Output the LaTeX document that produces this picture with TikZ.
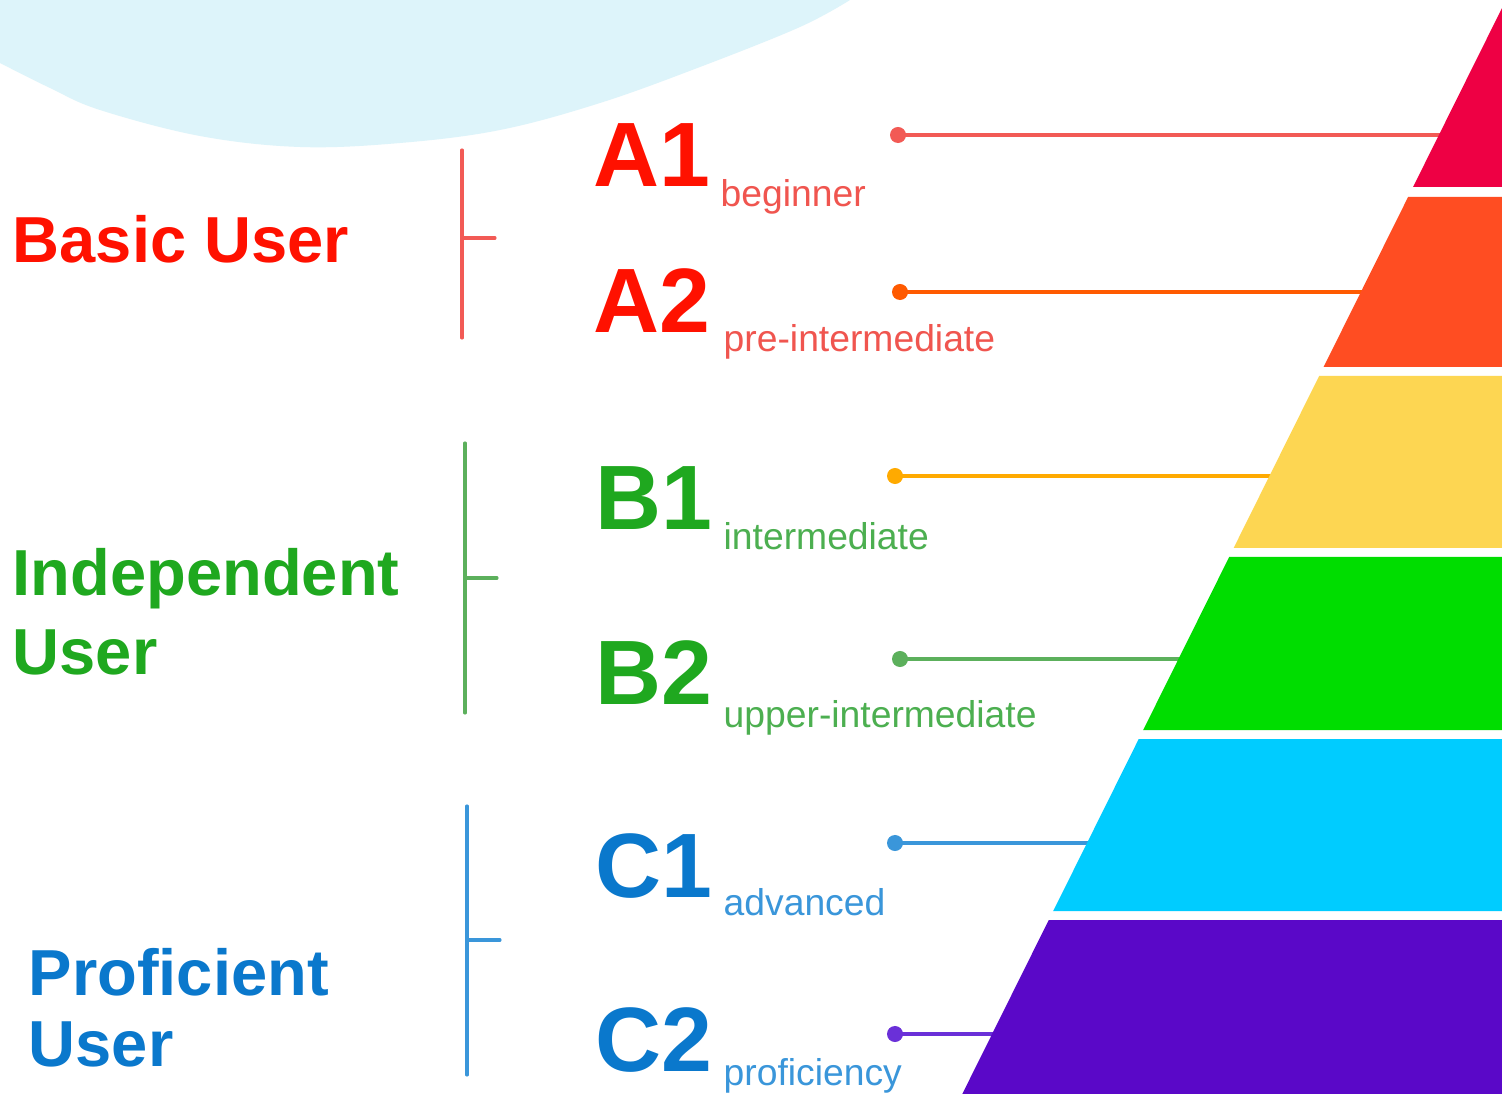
\documentclass[tikz,border=0pt]{standalone}
\usepackage{fontspec}
\setmainfont{Liberation Sans}
\usetikzlibrary{positioning}

\definecolor{blobblue}{HTML}{DDF4FA}
\definecolor{basicred}{HTML}{FF1100}
\definecolor{basiclight}{HTML}{F0554F}
\definecolor{indepgreen}{HTML}{1FA81F}
\definecolor{indeplight}{HTML}{4CAF50}
\definecolor{profblue}{HTML}{0A78CC}
\definecolor{proflight}{HTML}{3A96DA}
\definecolor{lineAone}{HTML}{F25A55}
\definecolor{lineAtwo}{HTML}{FF5A00}
\definecolor{lineBone}{HTML}{FFAA00}
\definecolor{lineBtwo}{HTML}{5CB05C}
\definecolor{lineCone}{HTML}{3A96DA}
\definecolor{lineCtwo}{HTML}{6A30D8}
\definecolor{pyrred}{HTML}{EE0044}
\definecolor{pyrorange}{HTML}{FF4D22}
\definecolor{pyryellow}{HTML}{FDD652}
\definecolor{pyrgreen}{HTML}{00DD00}
\definecolor{pyrcyan}{HTML}{00CCFF}
\definecolor{pyrpurple}{HTML}{5A08C8}

\begin{document}
\begin{tikzpicture}[x=0.01cm, y=-0.01cm]
    \tikzstyle{group} = [anchor=base west, inner sep=0pt, font=\fontsize{18.5}{22}\selectfont\bfseries]
    \tikzstyle{code} = [anchor=base west, inner sep=0pt, font=\fontsize{26}{26}\selectfont\bfseries]
    \tikzstyle{level} = [anchor=base west, inner sep=0pt, font=\fontsize{10.6}{12}\selectfont]
    \tikzstyle{bracket} = [draw, line width=0.9pt, line cap=round]
    \tikzstyle{dot} = [circle, inner sep=0pt, minimum size=0.16cm]
    \tikzstyle{line} = [draw, line width=1.05pt]

    \useasboundingbox (0,0) rectangle (1502,1094);
    \fill[white] (0,0) rectangle (1502,1094);

    % Background blob
    \fill[blobblue] (0,0) -- plot[smooth, tension=0.6] coordinates {(0,63) (50,88) (100,110) (200,136) (300,147) (400,143) (500,130) (600,103) (700,67) (800,27) (850,0)} -- cycle;

    % Group labels
    \node [group, basicred] (basic) at (12,263) {Basic User};
    \node [group, indepgreen] (indep) at (12,595) {Independent};
    \node [group, indepgreen] (indepuser) at (12,675) {User};
    \node [group, profblue] (prof) at (28,995) {Proficient};
    \node [group, profblue] (profuser) at (28,1066) {User};

    % Brackets
    \coordinate (basictop) at (462,150);
    \coordinate (basicbot) at (462,338);
    \coordinate (basicmid) at (462,238);
    \coordinate (basictip) at (495,238);
    \coordinate (indeptop) at (465,443);
    \coordinate (indepbot) at (465,713);
    \coordinate (indepmid) at (465,578);
    \coordinate (indeptip) at (497,578);
    \coordinate (proftop) at (467,806);
    \coordinate (profbot) at (467,1075);
    \coordinate (profmid) at (467,940);
    \coordinate (proftip) at (500,940);
    \path [bracket, lineAone] (basictop) -- (basicbot) (basicmid) -- (basictip);
    \path [bracket, lineBtwo] (indeptop) -- (indepbot) (indepmid) -- (indeptip);
    \path [bracket, lineCone] (proftop) -- (profbot) (profmid) -- (proftip);

    % Levels
    \node [code, basicred] (A1) at (593,187) {A1};
    \node [level, basiclight] (A1txt) at (720,207) {beginner};
    \node [code, basicred] (A2) at (593,333) {A2};
    \node [level, basiclight] (A2txt) at (723,352) {pre-intermediate};
    \node [code, indepgreen] (B1) at (595,530) {B1};
    \node [level, indeplight] (B1txt) at (723,549) {intermediate};
    \node [code, indepgreen] (B2) at (595,705) {B2};
    \node [level, indeplight] (B2txt) at (723,727) {upper-intermediate};
    \node [code, profblue] (C1) at (595,897) {C1};
    \node [level, proflight] (C1txt) at (723,915) {advanced};
    \node [code, profblue] (C2) at (595,1071) {C2};
    \node [level, proflight] (C2txt) at (723,1085) {proficiency};

    % Pointer lines
    \foreach \name/\x/\y/\col in {A1/898/135/lineAone, A2/900/292/lineAtwo, B1/895/476/lineBone,
                                  B2/900/659/lineBtwo, C1/895/843/lineCone, C2/895/1034/lineCtwo} {
        \node [dot, fill=\col] (d\name) at (\x,\y) {};
        \coordinate (e\name) at (1502,\y);
        \path [line, \col] (d\name.center) -- (e\name);
    }

    % Pyramid
    \foreach \top/\bot/\col in {8/187/pyrred, 197/367/pyrorange, 376/548/pyryellow,
                                557/730/pyrgreen, 739/911/pyrcyan, 920/1094/pyrpurple} {
        \fill [\col] ({1506-0.497*\top},\top) -- ({1506-0.497*\bot},\bot) -- (1502,\bot) -- (1502,\top) -- cycle;
    }
\end{tikzpicture}
\end{document}
